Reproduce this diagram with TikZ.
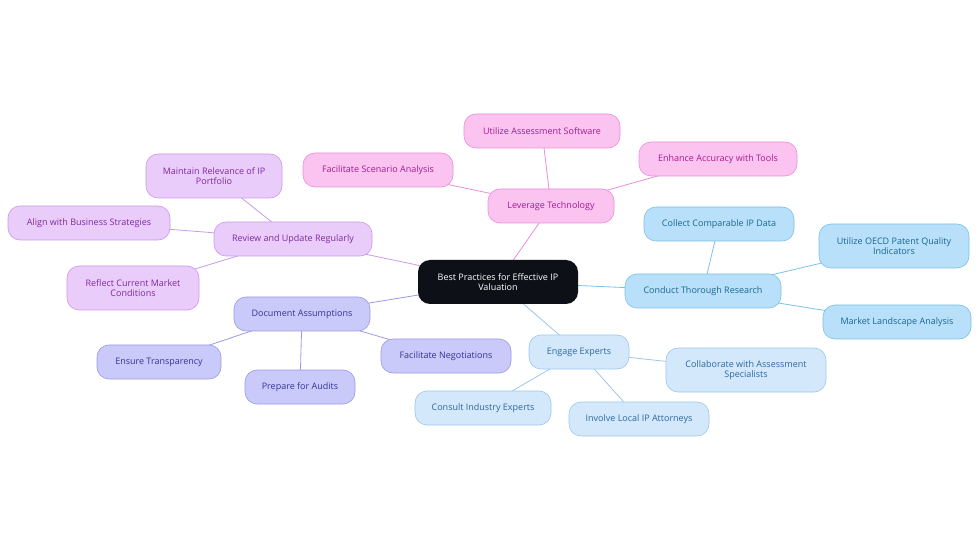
\documentclass[tikz,border=0pt]{standalone}
\usepackage{fontspec}
\setmainfont{Open Sans}
\usetikzlibrary{backgrounds}
\begin{document}
\begin{tikzpicture}[x=1pt,y=-1pt,
  base/.style={rounded corners=12pt,draw,line width=0.6pt,align=center,font=\fontsize{9}{10.5}\selectfont,inner sep=0pt},
  pk/.style={base,fill=pkf,draw=pkd,text=pkt},
  pu/.style={base,fill=puf,draw=pud,text=put},
  ig/.style={base,fill=inf,draw=ind,text=int},
  bl/.style={base,fill=blf,draw=bld,text=blt},
  lb/.style={base,fill=lbf,draw=lbd,text=lbt}]
\definecolor{pkf}{HTML}{FBC4F0}\definecolor{pkd}{HTML}{E88ED8}\definecolor{pkt}{HTML}{A8198F}
\definecolor{puf}{HTML}{EACCFA}\definecolor{pud}{HTML}{C99AE6}\definecolor{put}{HTML}{7E2A9E}
\definecolor{inf}{HTML}{C9C9FA}\definecolor{ind}{HTML}{9A9AE6}\definecolor{int}{HTML}{34349A}
\definecolor{blf}{HTML}{B8E0FA}\definecolor{bld}{HTML}{7CBFE6}\definecolor{blt}{HTML}{1B6690}
\definecolor{lbf}{HTML}{D4E8FC}\definecolor{lbd}{HTML}{9CC6EC}\definecolor{lbt}{HTML}{2A68A0}
\definecolor{dk}{HTML}{0D1117}
\path[use as bounding box] (0,0) rectangle (980,553);
\node[base,fill=dk,draw=none,text=white,minimum width=160pt,minimum height=44pt] (c) at (498,282) {Best Practices for Effective IP\\Valuation};
\node[pk,minimum width=126pt,minimum height=34pt] (lt) at (551,206) {Leverage Technology};
\node[pk,minimum width=156pt,minimum height=34pt] (lt1) at (542,131) {Utilize Assessment Software};
\node[pk,minimum width=150pt,minimum height=34pt] (lt2) at (378,170) {Facilitate Scenario Analysis};
\node[pk,minimum width=158pt,minimum height=34pt] (lt3) at (718,159) {Enhance Accuracy with Tools};
\node[pu,minimum width=158pt,minimum height=34pt] (ru) at (293,239) {Review and Update Regularly};
\node[pu,minimum width=136pt,minimum height=44pt] (ru1) at (214,176) {Maintain Relevance of IP\\Portfolio};
\node[pu,minimum width=162pt,minimum height=34pt] (ru2) at (89,223) {Align with Business Strategies};
\node[pu,minimum width=132pt,minimum height=44pt] (ru3) at (133,288) {Reflect Current Market\\Conditions};
\node[ig,minimum width=136pt,minimum height=34pt] (da) at (302,314) {Document Assumptions};
\node[ig,minimum width=124pt,minimum height=34pt] (da1) at (159,362) {Ensure Transparency};
\node[ig,minimum width=110pt,minimum height=34pt] (da2) at (300,387) {Prepare for Audits};
\node[ig,minimum width=130pt,minimum height=34pt] (da3) at (446,356) {Facilitate Negotiations};
\node[bl,minimum width=156pt,minimum height=34pt] (cr) at (703,291) {Conduct Thorough Research};
\node[bl,minimum width=150pt,minimum height=34pt] (cr1) at (719,224) {Collect Comparable IP Data};
\node[bl,minimum width=150pt,minimum height=44pt] (cr2) at (894,246) {Utilize OECD Patent Quality\\Indicators};
\node[bl,minimum width=148pt,minimum height=34pt] (cr3) at (897,322) {Market Landscape Analysis};
\node[lb,minimum width=100pt,minimum height=34pt] (ee) at (579,352) {Engage Experts};
\node[lb,minimum width=160pt,minimum height=44pt] (ee1) at (746,370) {Collaborate with Assessment\\Specialists};
\node[lb,minimum width=136pt,minimum height=34pt] (ee2) at (483,408) {Consult Industry Experts};
\node[lb,minimum width=140pt,minimum height=34pt] (ee3) at (639,419) {Involve Local IP Attorneys};
\begin{scope}[on background layer]
\foreach \a/\b/\col in {c/lt/pkd,lt/lt1/pkd,lt/lt2/pkd,lt/lt3/pkd,c/ru/pud,ru/ru1/pud,ru/ru2/pud,ru/ru3/pud,c/da/ind,da/da1/ind,da/da2/ind,da/da3/ind,c/cr/bld,cr/cr1/bld,cr/cr2/bld,cr/cr3/bld,c/ee/lbd,ee/ee1/lbd,ee/ee2/lbd,ee/ee3/lbd}
  \draw[\col,line width=0.8pt] (\a.center) -- (\b.center);
\end{scope}
\end{tikzpicture}
\end{document}
